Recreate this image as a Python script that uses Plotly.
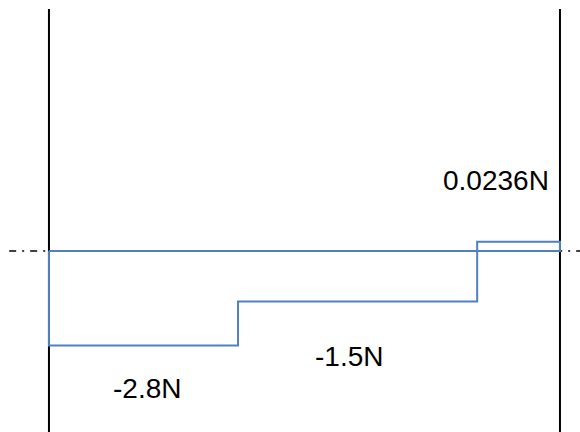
import plotly.graph_objects as go

# Section boundaries along the beam (x) and the drawn shear level of each section
x_bounds = [0.0, 1.85, 4.19, 5.0]
shear_drawn = [-2.8, -1.5, 0.27]
shear_labels = ["-2.8N", "-1.5N", "0.0236N"]

# Build the closed step outline from the arrays
xs = [x_bounds[0]]
ys = [0.0]
for i, v in enumerate(shear_drawn):
    xs += [x_bounds[i], x_bounds[i + 1]]
    ys += [v, v]
xs += [x_bounds[-1], x_bounds[0]]
ys += [0.0, 0.0]

blue = "#4F81BD"
fig = go.Figure()

x_rng = [-0.479, 5.196]
y_rng = [-5.36, 7.43]

# dash-dot zero line
fig.add_shape(type="line", xref="x", yref="y", x0=x_rng[0] + 0.09, x1=x_rng[1], y0=0, y1=0,
              line=dict(color="black", width=1.5, dash="7px,6px,2px,6px"), layer="below")
# support verticals
for xb in (x_bounds[0], x_bounds[-1]):
    fig.add_shape(type="line", xref="x", yref="y", x0=xb, x1=xb, y0=y_rng[0], y1=7.16,
                  line=dict(color="black", width=2), layer="below")

fig.add_trace(go.Scatter(x=xs, y=ys, mode="lines", line=dict(color=blue, width=2),
                         hoverinfo="skip", showlegend=False))

label_pos = [(0.96, -4.08), (2.94, -3.11), (4.37, 2.10)]
for (lx, ly), txt in zip(label_pos, shear_labels):
    fig.add_annotation(x=lx, y=ly, xref="x", yref="y", text=txt, showarrow=False,
                       font=dict(family="Liberation Sans, Arial, sans-serif", size=28, color="black"))

fig.update_layout(
    width=580, height=432,
    margin=dict(l=0, r=0, t=0, b=0),
    paper_bgcolor="white", plot_bgcolor="white",
    xaxis=dict(range=x_rng, visible=False, showgrid=False, zeroline=False),
    yaxis=dict(range=y_rng, visible=False, showgrid=False, zeroline=False),
)

fig.write_html("out.html")
